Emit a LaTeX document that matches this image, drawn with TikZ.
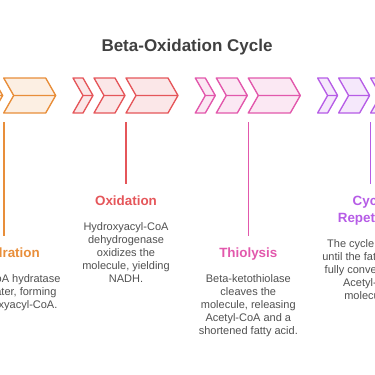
\documentclass[tikz,border=0pt]{standalone}
\usepackage{fontspec}
\setmainfont{Liberation Sans}
\definecolor{hydc}{RGB}{232,142,58}
\definecolor{oxic}{RGB}{229,86,90}
\definecolor{thic}{RGB}{226,88,172}
\definecolor{cycc}{RGB}{182,92,230}
\definecolor{txtc}{RGB}{80,80,80}
\definecolor{headc}{RGB}{64,64,64}
\begin{document}
\begin{tikzpicture}[x=1pt, y=-1pt]
      \useasboundingbox (0,0) rectangle (375,375);
      \clip (0,0) rectangle (375,375);
      \tikzstyle{chev}=[line width=1.35pt, line join=round]
      \tikzstyle{stem}=[line width=1.6pt, shorten >=12.5pt]
      \tikzstyle{steptitle}=[anchor=north, inner sep=0pt, align=center,
        font=\fontsize{13.4}{17}\selectfont\bfseries]
      \tikzstyle{stepdesc}=[anchor=north, inner sep=0pt, align=center, text=txtc,
        font=\fontsize{11}{13}\selectfont]

      \path (187,47) node (head) [font=\fontsize{17}{20}\selectfont\bfseries, text=headc]
        {Beta-Oxidation Cycle};

      \foreach \o/\c in {-122.3/hydc, 0/oxic, 122.3/thic, 244.6/cycc}
      {
        \foreach \l/\w in {73/20, 94/31, 126/52}
        {
          \draw [chev, draw=\c, fill=\c!14]
            ({\o+\l},78) -- ({\o+\l+\w-10},78) -- ({\o+\l+\w},95.5)
            -- ({\o+\l+\w-10},113) -- ({\o+\l},113) -- ({\o+\l+10},95.5) -- cycle
            ({\o+\l+10},95.5) -- ({\o+\l+\w},95.5);
        }
        \coordinate (top\c) at ({\o+126},122);
      }

      \path (8.5,248) node (hydr) [steptitle, text=hydc] {Hydration};
      \path (126,196) node (oxid) [steptitle, text=oxic] {Oxidation};
      \path (248.3,248) node (thio) [steptitle, text=thic] {Thiolysis};
      \path (370.6,196) node (cycl) [steptitle, text=cycc] {Cycle\\Repetition};

      \path (8.5,274.5) node (hydr-d) [stepdesc]
        {Enoyl-CoA hydratase\\adds water, forming\\3-Hydroxyacyl-CoA.};
      \path (126,222.5) node (oxid-d) [stepdesc]
        {Hydroxyacyl-CoA\\dehydrogenase\\oxidizes the\\molecule, yielding\\NADH.};
      \path (248.3,274.5) node (thio-d) [stepdesc]
        {Beta-ketothiolase\\cleaves the\\molecule, releasing\\Acetyl-CoA and a\\shortened fatty acid.};
      \path (370.6,239.5) node (cycl-d) [stepdesc]
        {The cycle repeats\\until the fatty acid is\\fully converted into\\Acetyl-CoA\\molecules.};

      \draw [stem, hydc] (tophydc) -- (tophydc |- hydr.north);
      \draw [stem, oxic] (topoxic) -- (topoxic |- oxid.north);
      \draw [stem, thic] (topthic) -- (topthic |- thio.north);
      \draw [stem, cycc] (topcycc) -- (topcycc |- cycl.north);
    \end{tikzpicture}
\end{document}
